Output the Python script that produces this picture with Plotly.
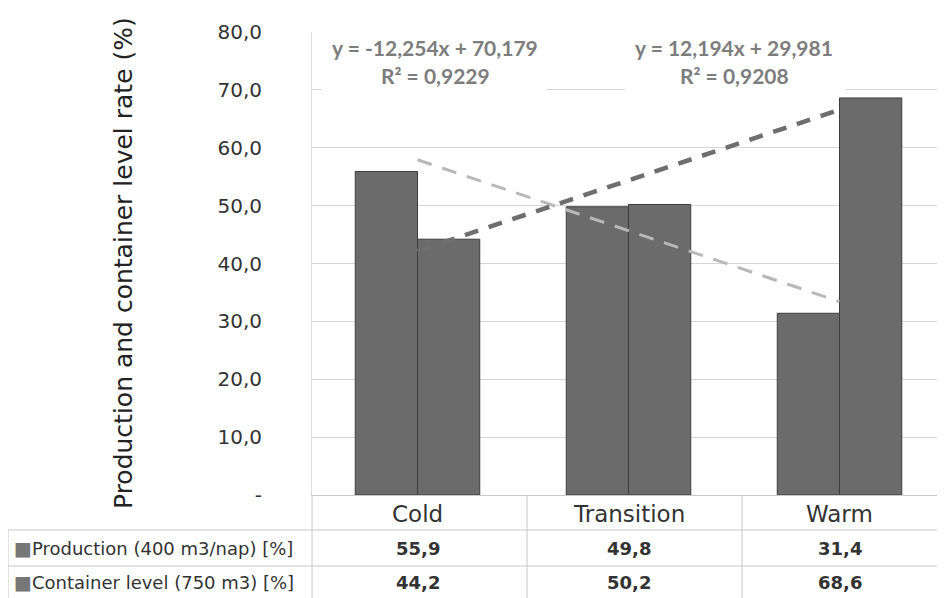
import plotly.graph_objects as go

categories = ["Cold", "Transition", "Warm"]
production = [55.9, 49.8, 31.4]
container = [44.2, 50.2, 68.6]
row_labels = ["Production (400 m3/nap) [%]", "Container level (750 m3) [%]"]
row_texts = [["55,9", "49,8", "31,4"], ["44,2", "50,2", "68,6"]]
y_tickvals = [0, 10, 20, 30, 40, 50, 60, 70, 80]
y_ticktext = ["-", "10,0", "20,0", "30,0", "40,0", "50,0", "60,0", "70,0", "80,0"]
# trendline equations as printed on the chart
prod_trend = {"slope": -12.254, "intercept": 70.179, "eq": "y = -12,254x + 70,179", "r2": "R² = 0,9229"}
cont_trend = {"slope": 12.194, "intercept": 29.981, "eq": "y = 12,194x + 29,981", "r2": "R² = 0,9208"}

OFF = 8  # page body margin
PAGE_W, PAGE_H = 945, 598
W, H = PAGE_W - OFF, PAGE_H - OFF
PL, PR, PT, PB = 312, 945, 32, 495  # plot area in page pixels
L, R, T = PL - OFF, PAGE_W - PR, PT - OFF
B = H - (PB - OFF)
PW = W - L - R
PH = H - T - B
xs = [1, 2, 3]

def py(p):
    return (PB - p) / PH

def px(p):
    return (p - PL) / PW

BAR = "#6b6b6b"
EDGE = "#3c3c3c"
GRID = "#d6d6d6"

fig = go.Figure()
fig.add_trace(go.Bar(x=xs, y=production, name=row_labels[0],
                     marker=dict(color=BAR, line=dict(color=EDGE, width=1))))
fig.add_trace(go.Bar(x=xs, y=container, name=row_labels[1],
                     marker=dict(color=BAR, line=dict(color=EDGE, width=1))))

tx = [xs[0], xs[-1]]
fig.add_trace(go.Scatter(x=tx, y=[prod_trend["slope"] * t + prod_trend["intercept"] for t in tx],
                         mode="lines", line=dict(color="#b8b8b8", width=3, dash="15px,11px"),
                         hoverinfo="skip"))
fig.add_trace(go.Scatter(x=tx, y=[cont_trend["slope"] * t + cont_trend["intercept"] for t in tx],
                         mode="lines", line=dict(color="#6e6e6e", width=4.5, dash="14px,11px"),
                         hoverinfo="skip"))

shapes = []
line = dict(color="#c8c8c8", width=1)
for yy in [530, 566]:
    shapes.append(dict(type="line", xref="paper", yref="paper", x0=px(8), x1=1, y0=py(yy), y1=py(yy), line=line))
shapes.append(dict(type="line", xref="paper", yref="paper", x0=px(8), x1=px(8), y0=py(530), y1=py(600), line=line))
for xx in [312, 527, 742]:
    shapes.append(dict(type="line", xref="paper", yref="paper", x0=px(xx), x1=px(xx), y0=py(495), y1=py(600), line=line))
# white boxes behind trend equations
for x0, x1 in [(322, 547), (625, 845)]:
    shapes.append(dict(type="rect", xref="paper", yref="paper", x0=px(x0), x1=px(x1), y0=py(94), y1=py(26),
                       fillcolor="white", line=dict(width=0), layer="above"))

annotations = []
annotations.append(dict(text="Production and container level rate (%)", xref="paper", yref="paper",
                        x=px(123), y=py(263), textangle=-90, showarrow=False, xanchor="center", yanchor="middle",
                        font=dict(family="DejaVu Sans", size=25, color="#222222")))
for cx, tr in [(435, prod_trend), (734, cont_trend)]:
    for yy, t in [(48, tr["eq"]), (75, tr["r2"])]:
        annotations.append(dict(text=t, xref="paper", yref="paper",
                                x=px(cx), y=py(yy), showarrow=False, xanchor="center", yanchor="middle",
                                font=dict(family="Lato", size=21, color="#7d7d7d", weight="bold")))
for i, (lab, texts) in enumerate(zip(row_labels, row_texts)):
    yc = py(548 + i * 34)
    annotations.append(dict(text="<span style='color:#777777;font-size:19px'>■</span>" + lab, xref="paper", yref="paper",
                            x=px(12), y=yc, showarrow=False, xanchor="left", yanchor="middle",
                            font=dict(family="DejaVu Sans", size=18, color="#333333")))
    for x, t in zip(xs, texts):
        annotations.append(dict(text="<b>" + t + "</b>", xref="x", yref="paper", x=x, y=yc,
                                showarrow=False, xanchor="center", yanchor="middle",
                                font=dict(family="DejaVu Sans", size=18, color="#333333")))
for x, c in zip(xs, categories):
    annotations.append(dict(text=c, xref="x", yref="paper", x=x, y=py(514),
                            showarrow=False, xanchor="center", yanchor="middle",
                            font=dict(family="DejaVu Sans", size=23, color="#333333")))

fig.update_layout(
    width=W, height=H,
    margin=dict(l=L, r=R, t=T, b=B),
    paper_bgcolor="white", plot_bgcolor="white",
    barmode="group", bargap=0.41, bargroupgap=0,
    showlegend=False,
    shapes=shapes, annotations=annotations,
    xaxis=dict(range=[0.5, 3.5], tickvals=xs, showticklabels=False, showgrid=False,
               showline=True, linecolor="#c8c8c8", linewidth=1, ticks="",
               zeroline=False, fixedrange=True),
    yaxis=dict(range=[0, 80], tickvals=y_tickvals, ticktext=y_ticktext, showgrid=True,
               gridcolor=GRID, gridwidth=1, showline=True, linecolor="#dddddd", ticks="",
               tickfont=dict(family="DejaVu Sans", size=20, color="#333333"), ticklabelstandoff=45,
               zeroline=False, fixedrange=True),
)

fig.write_html("out.html")
